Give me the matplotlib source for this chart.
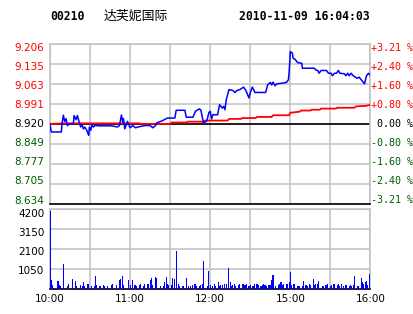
import matplotlib as mpl
import matplotlib.pyplot as plt
import numpy as np

# intraday minutes from 10:00 (0) to 16:00 (240), HK session with lunch break cut out
price_min = [0, 1, 8.5, 9, 10, 11, 12, 13, 15, 17.5, 18, 19.5, 20.5, 22, 23, 24, 25, 26,
             27.5, 29, 29.5, 30.5, 31.5, 32.5, 34, 36, 46, 50.5, 52, 53.5, 54.5, 55, 56,
             58, 60, 62, 64, 66, 71, 75, 77, 79, 80, 83.5, 88, 93.5, 94.5, 101, 102, 107,
             109, 112, 113, 115, 117.5, 119, 120, 121, 122, 125.5, 127, 129, 130, 131,
             132, 134, 137, 138.5, 140, 142, 145, 146, 147, 149, 150, 151.5, 153.5, 161.5,
             163, 165, 166, 167, 168.5, 170, 175, 177, 178.5, 179, 180, 181.5, 182, 183.5,
             185.5, 188.5, 189, 198, 199, 200.5, 201.5, 203, 207, 208.5, 210.5, 211.5,
             213, 214.5, 216, 217, 220.5, 221.5, 223, 224, 225.5, 227, 230, 231.5, 233.5,
             235.5, 237, 238.5, 240]
price = [8.920, 8.891, 8.891, 8.920, 8.951, 8.929, 8.939, 8.914, 8.921, 8.921, 8.950,
         8.935, 8.950, 8.924, 8.909, 8.917, 8.902, 8.909, 8.897, 8.879, 8.909, 8.897,
         8.917, 8.909, 8.915, 8.913, 8.913, 8.909, 8.914, 8.952, 8.925, 8.939, 8.902,
         8.929, 8.906, 8.914, 8.906, 8.909, 8.914, 8.914, 8.906, 8.914, 8.924, 8.930,
         8.941, 8.941, 8.969, 8.969, 8.944, 8.944, 8.966, 8.974, 8.969, 8.922, 8.932,
         8.961, 8.965, 8.938, 8.953, 8.953, 8.989, 8.977, 8.983, 8.971, 9.007, 9.043,
         9.040, 9.033, 9.040, 9.043, 9.052, 9.045, 9.037, 9.013, 9.033, 9.052, 9.033,
         9.033, 9.060, 9.069, 9.060, 9.070, 9.057, 9.064, 9.067, 9.069, 9.078, 9.102,
         9.180, 9.174, 9.156, 9.152, 9.140, 9.138, 9.120, 9.120, 9.114, 9.112, 9.102,
         9.112, 9.112, 9.102, 9.102, 9.093, 9.102, 9.102, 9.112, 9.102, 9.100, 9.093,
         9.102, 9.093, 9.102, 9.093, 9.084, 9.088, 9.076, 9.064, 9.093, 9.102, 9.093]

avg_min = [0, 10, 67, 68, 90, 91, 102, 103, 115, 116, 133, 134, 143, 144, 154, 155, 166,
           167, 179, 180, 187, 188, 195, 196, 202, 203, 214, 215, 228, 229, 237, 240]
avg = [8.920, 8.922, 8.922, 8.920, 8.920, 8.925, 8.925, 8.928, 8.928, 8.932, 8.932,
       8.938, 8.938, 8.941, 8.941, 8.945, 8.945, 8.951, 8.951, 8.960, 8.964, 8.968,
       8.968, 8.971, 8.971, 8.975, 8.975, 8.978, 8.978, 8.983, 8.985, 8.989]

vol_min = [0, 1, 2, 6, 7, 8, 10, 13, 14, 17, 19, 20, 23, 24, 25, 26, 28, 29, 31, 33, 34,
           35, 37, 38, 40, 41, 43, 46, 47, 50, 52, 53, 54, 55, 59, 60, 62, 63, 64, 65,
           67, 68, 70, 71, 73, 74, 75, 76, 77, 79, 80, 83, 85, 86, 87, 88, 89, 91, 92,
           93, 95, 96, 97, 99, 100, 102, 104, 105, 107, 108, 109, 110, 112, 113, 114,
           115, 118, 119, 120, 122, 123, 124, 126, 127, 128, 129, 131, 132, 134, 135,
           136, 137, 138, 139, 141, 142, 144, 145, 146, 147, 149, 150, 152, 153, 155,
           156, 158, 159, 160, 161, 162, 164, 165, 166, 167, 169, 171, 172, 173, 174,
           175, 177, 178, 179, 180, 181, 182, 183, 185, 186, 187, 189, 190, 191, 192,
           193, 194, 195, 197, 198, 199, 200, 201, 204, 205, 206, 207, 208, 210, 211,
           212, 213, 215, 216, 217, 218, 220, 221, 222, 224, 225, 226, 227, 228, 230,
           231, 233, 234, 235, 236, 237, 238, 239, 240]
vol = [4100, 440, 180, 390, 180, 120, 1280, 120, 260, 530, 390, 120, 180, 120, 320, 120,
       260, 260, 120, 120, 650, 180, 120, 120, 180, 120, 120, 180, 230, 180, 440, 530,
       650, 210, 440, 180, 440, 180, 180, 120, 180, 230, 120, 260, 230, 230, 440, 560,
       180, 620, 560, 120, 120, 320, 620, 230, 180, 180, 560, 500, 1980, 230, 120, 120,
       120, 560, 120, 120, 180, 230, 230, 120, 120, 180, 230, 1450, 120, 920, 180, 120,
       230, 120, 320, 120, 180, 180, 230, 230, 1080, 320, 120, 180, 230, 120, 180, 230,
       260, 260, 180, 260, 120, 180, 120, 260, 260, 180, 120, 180, 230, 180, 120, 180,
       180, 440, 710, 120, 180, 230, 320, 180, 260, 260, 260, 320, 890, 180, 260, 230,
       120, 120, 120, 120, 390, 180, 180, 120, 230, 180, 500, 180, 230, 260, 390, 120,
       120, 180, 180, 230, 120, 180, 230, 260, 180, 230, 120, 230, 120, 180, 180, 120,
       180, 120, 180, 650, 120, 120, 560, 320, 230, 350, 390, 180, 750, 260]

prev_close = 8.920
price_ticks = [9.206, 9.135, 9.063, 8.991, 8.920, 8.849, 8.777, 8.705, 8.634]
pct_labels = ["+3.21 %", "+2.40 %", "+1.60 %", "+0.80 %", " 0.00 %",
              "-0.80 %", "-1.60 %", "-2.40 %", "-3.21 %"]
vol_ticks = [4200, 3150, 2100, 1050]
time_pos = [0, 60, 120, 180, 240]
time_labels = ["10:00", "11:00", "12:00", "15:00", "16:00"]

RED = "#ff0000"
GREEN = "#005a00"
GRID = "#c0c0c0"

W, H = 414, 314
fig = plt.figure(figsize=(W / 100, H / 100), dpi=100)

ax = fig.add_axes([50 / W, 1 - 203.5 / H, 320.5 / W, 159.2 / H])
axv = fig.add_axes([50 / W, 1 - 288.5 / H, 320.5 / W, 79.2 / H])

for a in (ax, axv):
    a.set_xlim(0, 240)
    a.set_xticks(np.arange(0, 241, 30))
    a.set_xticklabels([])
    a.grid(True, color=GRID, linewidth=1.1)
    a.set_axisbelow(True)
    a.tick_params(length=0)
    for s in ("left", "right", "top"):
        a.spines[s].set_color(GRID)
        a.spines[s].set_linewidth(1.1)
    a.spines["bottom"].set_color("black")
    a.spines["bottom"].set_linewidth(1.2)

# price panel
ax.set_ylim(price_ticks[-1], price_ticks[0])
ax.set_yticks(price_ticks)
ax.set_yticklabels([])
ax.axhline(prev_close, color="black", linewidth=1.2, zorder=2)
ax.plot(avg_min, avg, color=RED, linewidth=1.3, zorder=3)
ax.plot(price_min, price, color="#0000ff", linewidth=1.1, zorder=4)

# labels sit inside the panel: first/last pulled in by a few pixels
for i, (v, t) in enumerate(zip(price_ticks, pct_labels)):
    yc = 47 + i * 19.1
    c = RED if v > prev_close else ("black" if v == prev_close else GREEN)
    fig.text(44.5 / W, 1 - (yc + 3.8) / H, "%.3f" % v, ha="right", va="baseline",
             fontsize=7.5, color=c)
    fig.text(371.5 / W, 1 - (yc + 3.6) / H, t, ha="left", va="baseline",
             fontsize=7.2, family="DejaVu Sans Mono", color=c)

# volume panel
axv.set_ylim(0, 4200)
axv.set_yticks(vol_ticks)
axv.set_yticklabels([])
axv.bar(vol_min, vol, width=0.8, color="#0000ff", linewidth=0, zorder=3)
for v, yc in zip(vol_ticks, [213.3, 232.5, 251.3, 270.3]):
    fig.text(44.5 / W, 1 - (yc + 3.8) / H, str(v), ha="right", va="baseline",
             fontsize=7.5)
for p, t in zip(time_pos, time_labels):
    axv.text(p, -0.07, t, transform=axv.get_xaxis_transform(), ha="center", va="top",
             fontsize=7.5)

# header
fig.text(50 / W, 1 - 16 / H, "00210", fontsize=8.3, family="DejaVu Sans Mono",
         weight="bold", va="center", ha="left")
fig.text(104 / W, 1 - 16 / H, "达芙妮国际", fontsize=9.3,
         family=["Noto Sans CJK SC", "DejaVu Sans"], va="center", ha="left")
fig.text(370 / W, 1 - 16 / H, "2010-11-09 16:04:03", fontsize=8.3,
         family="DejaVu Sans Mono", weight="bold", va="center", ha="right")

fig.savefig("out.png", dpi=100)
